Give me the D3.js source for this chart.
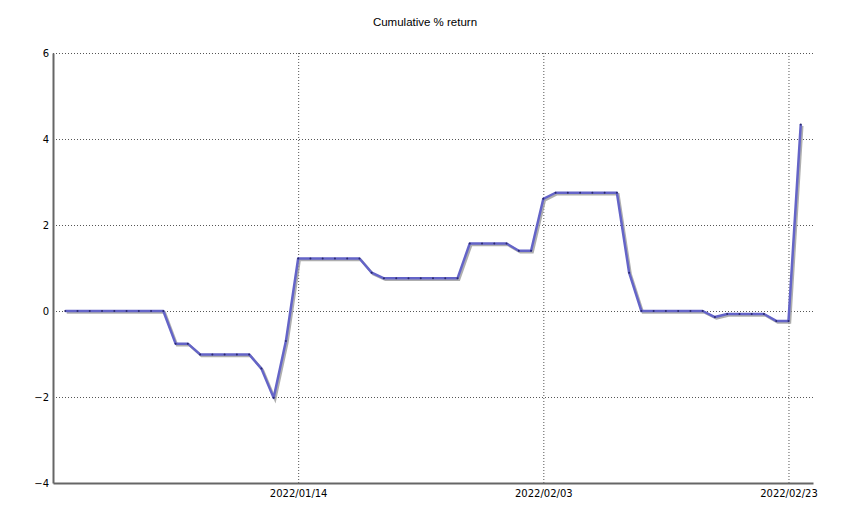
<!DOCTYPE html>
<html>
<head>
<meta charset="utf-8">
<script src="https://cdn.jsdelivr.net/npm/d3@7"></script>
<style>
  body { margin: 0; background: #fff; }
  text { font-family: "DejaVu Sans", Verdana, sans-serif; }
</style>
</head>
<body>
<div id="chart"></div>
<script>
var svgWidth = 850;
var svgHeight = 528;

var margin = { top: 53, right: 37, bottom: 45, left: 53 };
var width = svgWidth - margin.left - margin.right;
var height = svgHeight - margin.top - margin.bottom;

// daily points, starting 2021/12/26
var startDate = "2021-12-26";
var returns = [
  0, 0, 0, 0, 0, 0, 0, 0, 0,
  -0.76, -0.76, -1.01, -1.01, -1.01, -1.01, -1.01, -1.34, -2.02, -0.70,
  1.22, 1.22, 1.22, 1.22, 1.22, 1.22, 0.89,
  0.76, 0.76, 0.76, 0.76, 0.76, 0.76, 0.76,
  1.57, 1.57, 1.57, 1.57, 1.40, 1.40,
  2.61, 2.75, 2.75, 2.75, 2.75, 2.75, 2.75,
  0.89, 0, 0, 0, 0, 0, 0,
  -0.14, -0.07, -0.07, -0.07, -0.07, -0.23, -0.23, 4.34
];
var xTicks = ["2022-01-14", "2022-02-03", "2022-02-23"];
var yTicks = [-4, -2, 0, 2, 4, 6];
var xDomain = ["2021-12-25", "2022-02-25"];
var yDomain = [-4, 6];

var parse = d3.timeParse("%Y-%m-%d");
var fmt = d3.timeFormat("%Y/%m/%d");
var t0 = parse(startDate);
var data = returns.map(function(v, i) {
  return { date: d3.timeDay.offset(t0, i), value: v };
});

var svg = d3.select("#chart").append("svg")
  .attr("width", svgWidth)
  .attr("height", svgHeight);

var chartGroup = svg.append("g")
  .attr("transform", `translate(${margin.left}, ${margin.top})`);

var xScale = d3.scaleTime()
  .domain(xDomain.map(parse))
  .range([0, width]);

var yScale = d3.scaleLinear()
  .domain(yDomain)
  .range([height, 0]);

// gridlines
chartGroup.append("g").selectAll("line.h")
  .data(yTicks.filter(d => d !== yDomain[0]))
  .enter().append("line")
  .attr("x1", 0).attr("x2", width)
  .attr("y1", d => yScale(d) + 0.5).attr("y2", d => yScale(d) + 0.5)
  .attr("stroke", "#555").attr("stroke-dasharray", "1,2");

chartGroup.append("g").selectAll("line.v")
  .data(xTicks.map(parse))
  .enter().append("line")
  .attr("x1", d => xScale(d) + 0.5).attr("x2", d => xScale(d) + 0.5)
  .attr("y1", 0).attr("y2", height)
  .attr("stroke", "#555").attr("stroke-dasharray", "1,2");

// axes
var xAxis = d3.axisBottom(xScale)
  .tickValues(xTicks.map(parse))
  .tickFormat(fmt)
  .tickSize(0)
  .tickPadding(7);
var yAxis = d3.axisLeft(yScale)
  .tickValues(yTicks)
  .tickSize(0)
  .tickPadding(4);

var gx = chartGroup.append("g")
  .attr("transform", `translate(0, ${height})`)
  .call(xAxis);
var gy = chartGroup.append("g").call(yAxis);

[gx, gy].forEach(function(g) {
  g.select(".domain").attr("stroke", "#666").attr("stroke-width", 2);
  g.selectAll("text").attr("font-size", 10).attr("fill", "#000");
});

// line with shadow
var line = d3.line()
  .x(d => xScale(d.date))
  .y(d => yScale(d.value));

chartGroup.append("path")
  .datum(data)
  .attr("d", line)
  .attr("transform", "translate(1.5,1.5)")
  .attr("fill", "none")
  .attr("stroke", "#9a9a9a")
  .attr("stroke-width", 2.5)
  .attr("opacity", 0.8);

chartGroup.append("path")
  .datum(data)
  .attr("d", line)
  .attr("fill", "none")
  .attr("stroke", "#6464c8")
  .attr("stroke-width", 2.5)
  .attr("stroke-linejoin", "round");

chartGroup.selectAll("circle")
  .data(data)
  .enter().append("circle")
  .attr("cx", d => xScale(d.date))
  .attr("cy", d => yScale(d.value))
  .attr("r", 1)
  .attr("fill", "#2a2a70");

// title
svg.append("text")
  .attr("x", svgWidth / 2)
  .attr("y", 26)
  .attr("text-anchor", "middle")
  .attr("font-size", 11.5)
  .style("font-family", "'Liberation Sans', Arial, sans-serif")
  .text("Cumulative % return");
</script>
</body>
</html>
